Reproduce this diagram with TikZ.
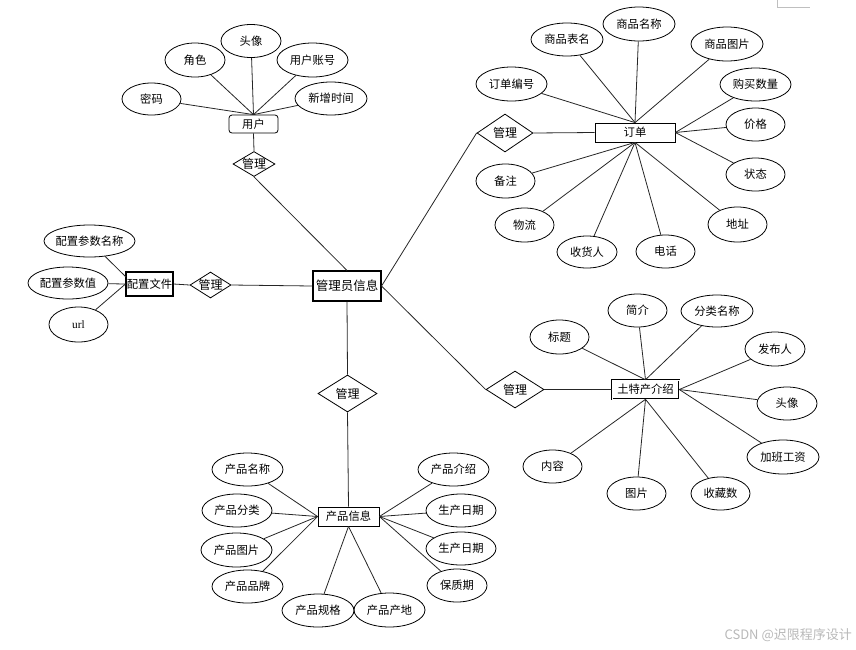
\documentclass[tikz,border=0pt]{standalone}
\usepackage{fontspec}
\setmainfont{Noto Sans CJK SC}
\newfontfamily\serifurl{Liberation Serif}
\usetikzlibrary{shapes.geometric}
\tikzset{
  attr/.style={ellipse, draw, line width=0.8pt, inner sep=0pt, font=\fontsize{11.3}{11.3}\selectfont},
  ent/.style={rectangle, draw, line width=0.8pt, inner sep=0pt, font=\fontsize{11.3}{11.3}\selectfont},
  rel/.style={diamond, draw, line width=0.8pt, inner sep=0pt, font=\fontsize{12}{12}\selectfont},
  conn/.style={line width=0.8pt, draw=black!85},
}
\newcommand{\zb}[1]{\makebox[0pt]{#1}}
\begin{document}
\begin{tikzpicture}[x=1pt,y=-1pt]
\useasboundingbox (0,0) rectangle (856,649);
\draw[black!25, line width=0.6pt] (777,0) -- (777,7) -- (810,7);

% ===== central =====
\node[ent, line width=1.1pt, minimum width=68pt, minimum height=30pt, font=\fontsize{12.5}{12.5}\selectfont] (admin) at (347,286) {管理员信息};

% ===== user =====
\node[ent, rounded corners=3pt, minimum width=49pt, minimum height=18pt] (user) at (253.5,124) {用户};
\node[rel, minimum width=42pt, minimum height=25pt] (duser) at (254,164) {\zb{管理}};
\node[attr, minimum width=60pt, minimum height=33pt] (ua1) at (251,41) {\zb{头像}};
\node[attr, minimum width=60pt, minimum height=34pt] (ua2) at (195,60) {\zb{角色}};
\node[attr, minimum width=71pt, minimum height=34pt] (ua3) at (312.5,60) {\zb{用户账号}};
\node[attr, minimum width=59pt, minimum height=32pt] (ua4) at (151.5,99) {\zb{密码}};
\node[attr, minimum width=72pt, minimum height=33pt] (ua5) at (331,98.5) {\zb{新增时间}};
\foreach \a in {ua1,ua2,ua3,ua4,ua5} \draw[conn] (\a) -- (user.north);
\draw[conn] (user.south) -- (duser.north);
\draw[conn] (duser.south) -- (admin.north);

% ===== config =====
\node[ent, line width=1.1pt, minimum width=47pt, minimum height=24pt] (cfg) at (149.5,284) {配置文件};
\node[rel, minimum width=41pt, minimum height=26pt] (dcfg) at (210.5,285) {\zb{管理}};
\node[attr, minimum width=91pt, minimum height=32pt] (ca1) at (89.5,241) {\zb{配置参数名称}};
\node[attr, minimum width=80pt, minimum height=32pt] (ca2) at (68,283) {\zb{配置参数值}};
\node[attr, minimum width=59pt, minimum height=35pt] (ca3) at (78.5,324.5) {\zb{\serifurl url}};
\coordinate (cfgin) at (126,277);
\draw[conn] (ca1) -- (cfgin);
\draw[conn] (ca2) -- (cfg.west);
\draw[conn] (ca3) -- (cfg.west);
\draw[conn] (cfg.east) -- (dcfg.west);
\draw[conn] (dcfg.east) -- (admin.west);

% ===== order =====
\node[ent, minimum width=80pt, minimum height=19pt] (ord) at (635,132.5) {订单};
\node[rel, minimum width=56pt, minimum height=38pt] (dord) at (505,133) {\zb{管理}};
\node[attr, minimum width=72pt, minimum height=33pt] (oa1) at (567,39.5) {\zb{商品表名}};
\node[attr, minimum width=72pt, minimum height=34pt] (oa2) at (639,24) {\zb{商品名称}};
\node[attr, minimum width=72pt, minimum height=34pt] (oa3) at (727,44) {\zb{商品图片}};
\node[attr, minimum width=71pt, minimum height=34pt] (oa4) at (511.5,84) {\zb{订单编号}};
\node[attr, minimum width=71pt, minimum height=33pt] (oa5) at (755.5,84.5) {\zb{购买数量}};
\node[attr, minimum width=59pt, minimum height=33pt] (oa6) at (755.5,124.5) {\zb{价格}};
\node[attr, minimum width=59pt, minimum height=33pt] (oa7) at (755.5,174.5) {\zb{状态}};
\node[attr, minimum width=59pt, minimum height=35pt] (oa8) at (737.5,224.5) {\zb{地址}};
\node[attr, minimum width=59pt, minimum height=33pt] (oa9) at (665.5,251.5) {\zb{电话}};
\node[attr, minimum width=60pt, minimum height=32pt] (oa10) at (587,252) {\zb{收货人}};
\node[attr, minimum width=59pt, minimum height=34pt] (oa11) at (524.5,225) {\zb{物流}};
\node[attr, minimum width=59pt, minimum height=34pt] (oa12) at (505.5,181) {\zb{备注}};
\foreach \a in {oa1,oa2,oa3,oa4} \draw[conn] (\a) -- (ord.north);
\foreach \a in {oa5,oa6,oa7} \draw[conn] (\a) -- (ord.east);
\foreach \a in {oa8,oa9,oa10,oa11,oa12} \draw[conn] (\a) -- (ord.south);
\draw[conn] (admin.east) -- (dord.west);
\draw[conn] (dord.east) -- (ord.west);

% ===== local specialty =====
\node[ent, double, double distance=0.8pt, line width=0.6pt, minimum width=67pt, minimum height=19pt] (tc) at (645.5,389.5) {土特产介绍};
\node[rel, minimum width=58pt, minimum height=37pt] (dtc) at (515,389.5) {\zb{管理}};
\node[attr, minimum width=59pt, minimum height=34pt] (ta1) at (559.5,337) {\zb{标题}};
\node[attr, minimum width=59pt, minimum height=33pt] (ta2) at (637.5,310.5) {\zb{简介}};
\node[attr, minimum width=72pt, minimum height=32pt] (ta3) at (717,311) {\zb{分类名称}};
\node[attr, minimum width=60pt, minimum height=34pt] (ta4) at (775,349) {\zb{发布人}};
\node[attr, minimum width=60pt, minimum height=33pt] (ta5) at (787,403.5) {\zb{头像}};
\node[attr, minimum width=72pt, minimum height=34pt] (ta6) at (783,457) {\zb{加班工资}};
\node[attr, minimum width=59pt, minimum height=33pt] (ta7) at (720.5,493.5) {\zb{收藏数}};
\node[attr, minimum width=59pt, minimum height=33pt] (ta8) at (636.5,493.5) {\zb{图片}};
\node[attr, minimum width=59pt, minimum height=33pt] (ta9) at (552.5,466.5) {\zb{内容}};
\foreach \a in {ta1,ta2,ta3} \draw[conn] (\a) -- (tc.north);
\foreach \a in {ta4,ta5,ta6} \draw[conn] (\a) -- (tc.east);
\foreach \a in {ta7,ta8,ta9} \draw[conn] (\a) -- (tc.south);
\draw[conn] (admin.east) -- (dtc.west);
\draw[conn] (dtc.east) -- (tc.west);

% ===== product =====
\node[ent, minimum width=61pt, minimum height=19pt] (pr) at (348.5,516.5) {产品信息};
\node[rel, minimum width=59pt, minimum height=37pt] (dpr) at (347.5,393.5) {\zb{管理}};
\node[attr, minimum width=71pt, minimum height=33pt] (pa1) at (247.5,469.5) {\zb{产品名称}};
\node[attr, minimum width=70pt, minimum height=33pt] (pa2) at (237,510.5) {\zb{产品分类}};
\node[attr, minimum width=71pt, minimum height=34pt] (pa3) at (236.5,550) {\zb{产品图片}};
\node[attr, minimum width=71pt, minimum height=33pt] (pa4) at (247.5,586.5) {\zb{产品品牌}};
\node[attr, minimum width=72pt, minimum height=33pt] (pa5) at (318,610.5) {\zb{产品规格}};
\node[attr, minimum width=71pt, minimum height=34pt] (pa6) at (389.5,610) {\zb{产品产地}};
\node[attr, minimum width=71pt, minimum height=33pt] (pa7) at (453.5,469.5) {\zb{产品介绍}};
\node[attr, minimum width=70pt, minimum height=33pt] (pa8) at (461,510.5) {\zb{生产日期}};
\node[attr, minimum width=70pt, minimum height=33pt] (pa9) at (461,548.5) {\zb{生产日期}};
\node[attr, minimum width=60pt, minimum height=33pt] (pa10) at (457,585.5) {\zb{保质期}};
\foreach \a in {pa1,pa2,pa3,pa4} \draw[conn] (\a) -- (pr.west);
\foreach \a in {pa5,pa6} \draw[conn] (\a) -- (pr.south);
\foreach \a in {pa7,pa8,pa9,pa10} \draw[conn] (\a) -- (pr.east);
\draw[conn] (admin.south) -- (dpr.north);
\draw[conn] (dpr.south) -- (pr.north);

% ===== watermark =====
\node[anchor=east, inner sep=0pt, text=black!28, font=\fontsize{13}{13}\selectfont] (wm) at (852,635) {CSDN @迟限程序设计};
\end{tikzpicture}
\end{document}
